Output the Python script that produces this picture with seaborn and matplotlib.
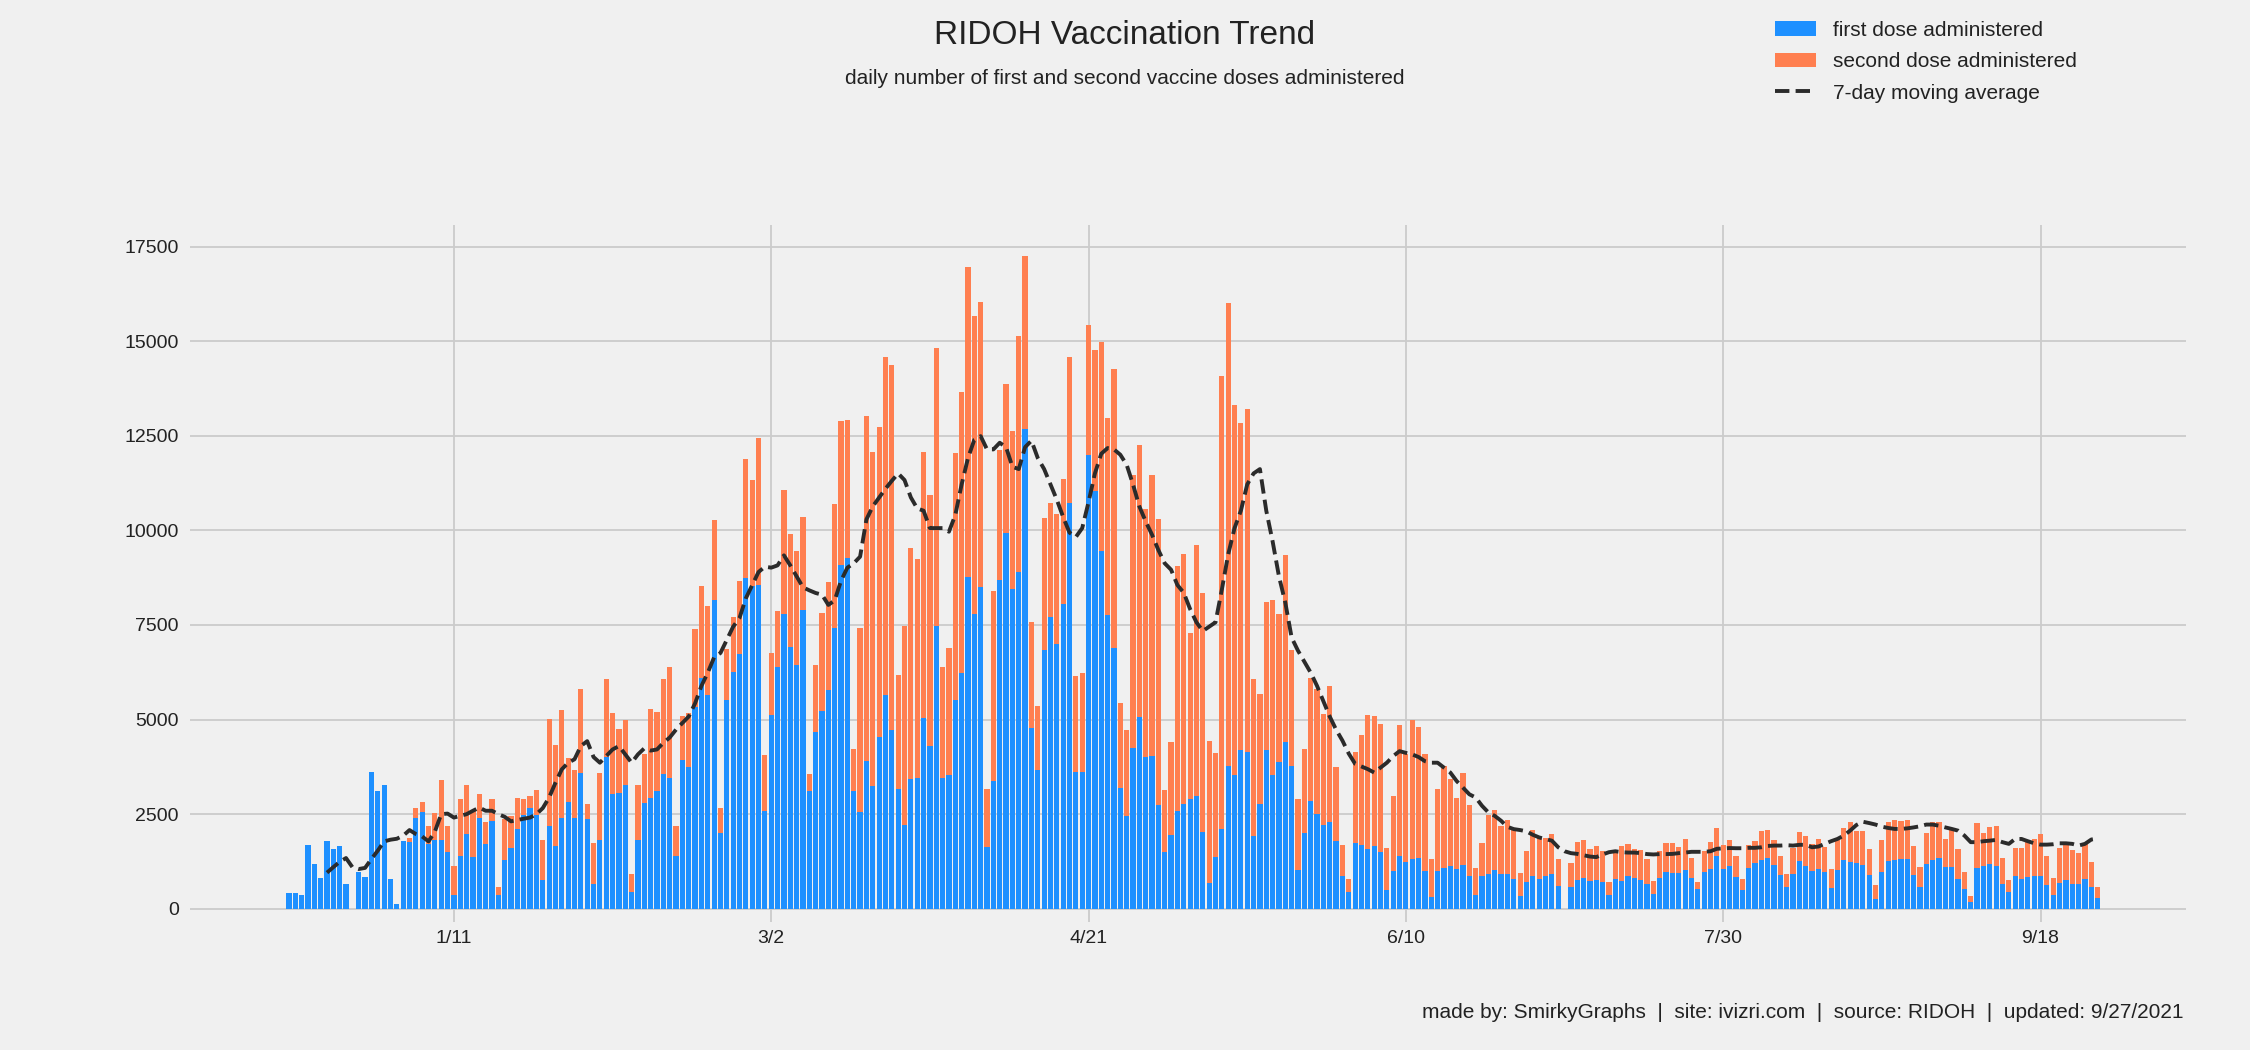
import numpy as np
import pandas as pd
import matplotlib
matplotlib.use("Agg")
import matplotlib.pyplot as plt
import seaborn as sns
from matplotlib.patches import Patch
from matplotlib.lines import Line2D

# daily doses, first day shown is 12/16/2020 (day 0)
first_dose = [
    410, 410, 360, 1675, 1175, 810, 1780, 1570, 1650, 650,
    0, 965, 830, 3620, 3120, 3280, 780, 120, 1780, 1755,
    2410, 2570, 1700, 1810, 1830, 1490, 360, 1385, 1965, 1360,
    2410, 1700, 2310, 360, 1280, 1600, 2100, 2490, 2650, 2465,
    755, 2200, 1650, 2410, 2830, 2410, 3600, 2360, 650, 1830,
    4020, 3020, 3070, 3280, 440, 1830, 2800, 2940, 3125, 3565,
    3450, 1390, 3935, 3750, 5325, 6090, 5650, 8150, 1990, 5510,
    6250, 6725, 8750, 8520, 8565, 2590, 5115, 6390, 7780, 6920,
    6435, 7895, 3100, 4675, 5230, 5790, 7420, 9085, 9260, 3125,
    2570, 3910, 3250, 4540, 5650, 4720, 3170, 2220, 3425, 3450,
    5045, 4305, 7465, 3450, 3540, 5510, 6225, 8775, 7780, 8495,
    1620, 3380, 8700, 9940, 8450, 8890, 12685, 4790, 3680, 6840,
    7710, 7000, 8055, 10720, 3610, 3610, 11990, 11040, 9445, 7765,
    6900, 3195, 2455, 4260, 5070, 4005, 4050, 2730, 1505, 1945,
    2590, 2780, 2895, 2985, 2035, 670, 1365, 2105, 3785, 3540,
    4200, 4145, 1930, 2780, 4200, 3540, 3890, 4420, 3775, 1020,
    2015, 2835, 2510, 2220, 2300, 1780, 855, 440, 1725, 1680,
    1575, 1650, 1490, 490, 990, 1385, 1230, 1305, 1335, 990,
    305, 990, 1070, 1120, 1045, 1150, 860, 360, 860, 910,
    1020, 910, 910, 780, 335, 700, 860, 780, 860, 915,
    600, 0, 575, 760, 810, 730, 760, 705, 365, 785,
    730, 865, 810, 760, 655, 390, 810, 970, 945, 945,
    1020, 810, 520, 970, 1050, 1390, 1050, 1125, 840, 495,
    1075, 1205, 1285, 1335, 1150, 890, 575, 915, 1260, 1125,
    995, 1050, 970, 550, 1020, 1285, 1230, 1205, 1150, 890,
    255, 970, 1260, 1285, 1310, 1310, 890, 575, 1180, 1285,
    1335, 1100, 1100, 785, 520, 180, 1075, 1125, 1180, 1125,
    655, 445, 865, 785, 840, 865, 865, 625, 365, 680,
    760, 655, 655, 785, 575, 285,
]

second_dose = [
    0, 0, 0, 0, 0, 0, 0, 0, 0, 0,
    0, 0, 0, 0, 0, 0, 0, 0, 0, 110,
    265, 260, 475, 710, 1580, 710, 760, 1525, 1315, 1240,
    610, 580, 580, 210, 1080, 840, 840, 400, 340, 685,
    1075, 2820, 2680, 2840, 1160, 1265, 2200, 420, 1080, 1770,
    2050, 2155, 1680, 1710, 470, 1450, 1300, 2340, 2075, 2500,
    2930, 810, 1155, 1420, 2060, 2450, 2360, 2130, 660, 1365,
    1470, 1935, 3125, 2810, 3865, 1485, 1635, 1470, 3285, 2990,
    3010, 2465, 465, 1760, 2595, 2855, 3275, 3795, 3645, 1100,
    4860, 9100, 8810, 8200, 8930, 9655, 3000, 5245, 6115, 5800,
    7015, 6635, 7360, 2930, 3350, 6530, 7425, 8180, 7890, 7545,
    1550, 5020, 3420, 3935, 4165, 6235, 4560, 2780, 1690, 3485,
    3010, 3430, 3300, 3860, 2535, 2615, 3425, 3730, 5530, 5195,
    7370, 2245, 2265, 7210, 7175, 6560, 7410, 7570, 1645, 2475,
    6470, 6595, 4385, 6635, 6300, 3760, 2755, 11980, 12220, 9780,
    8625, 9075, 4135, 2890, 3915, 4630, 3890, 4930, 3075, 1885,
    2210, 3255, 3290, 2930, 3600, 1970, 825, 335, 2420, 2920,
    3540, 3445, 3395, 1110, 2000, 3475, 2870, 3685, 3470, 3110,
    1000, 2185, 2710, 2320, 1895, 2450, 1895, 710, 870, 1580,
    1600, 1290, 1425, 1315, 605, 820, 1210, 1105, 1010, 1055,
    710, 0, 630, 1000, 1000, 845, 895, 815, 340, 765,
    925, 840, 765, 790, 655, 340, 710, 765, 790, 680,
    820, 530, 185, 550, 710, 735, 630, 685, 550, 290,
    605, 580, 765, 740, 660, 500, 340, 685, 760, 790,
    710, 790, 655, 500, 790, 840, 1055, 845, 900, 685,
    370, 840, 1025, 1055, 1000, 1030, 765, 525, 815, 1000,
    950, 740, 975, 790, 450, 160, 1180, 870, 970, 1055,
    685, 315, 735, 815, 920, 975, 1105, 765, 445, 920,
    945, 895, 815, 920, 660, 290,
]

# 7-day moving average as drawn in the chart
avg_7day = [
    np.nan, np.nan, np.nan, np.nan, np.nan, np.nan, 955, 1100, 1240, 1340,
    1100, 1050, 1080, 1315, 1535, 1780, 1825, 1850, 1930, 2080,
    1975, 1910, 1780, 2040, 2500, 2515, 2410, 2455, 2500, 2590,
    2675, 2590, 2590, 2500, 2430, 2310, 2345, 2380, 2410, 2500,
    2660, 2940, 3330, 3685, 3860, 3950, 4300, 4430, 4010, 3860,
    4035, 4210, 4300, 4080, 3860, 4080, 4240, 4180, 4210, 4385,
    4525, 4735, 4910, 5080, 5430, 5890, 6240, 6645, 6760, 7105,
    7455, 7685, 8205, 8555, 8900, 9040, 9015, 9075, 9340, 9075,
    8785, 8495, 8415, 8345, 8300, 8030, 8150, 8670, 9015, 9130,
    9305, 10290, 10635, 10870, 11100, 11310, 11505, 11330, 10870, 10580,
    10520, 10060, 10060, 10060, 9965, 10405, 11215, 11910, 12395, 12490,
    12140, 12140, 12315, 12200, 11680, 11620, 12200, 12370, 11910, 11620,
    11215, 10810, 10350, 9940, 9825, 10060, 10750, 11505, 12025, 12175,
    12140, 12000, 11735, 11215, 10635, 10235, 9885, 9480, 9130, 8960,
    8555, 8350, 7920, 7570, 7340, 7455, 7570, 8435, 9365, 10060,
    10520, 11215, 11505, 11620, 10520, 9710, 8785, 8090, 7165, 6820,
    6530, 6240, 5890, 5485, 5080, 4735, 4445, 4100, 3830, 3760,
    3690, 3600, 3730, 3860, 4035, 4165, 4120, 4080, 4010, 3900,
    3860, 3860, 3730, 3600, 3375, 3200, 3025, 2940, 2720, 2545,
    2455, 2325, 2165, 2105, 2080, 2045, 1955, 1885, 1840, 1800,
    1625, 1520, 1470, 1450, 1415, 1380, 1365, 1435, 1495, 1520,
    1495, 1485, 1485, 1470, 1445, 1435, 1445, 1445, 1450, 1470,
    1485, 1505, 1505, 1505, 1520, 1585, 1595, 1605, 1600, 1600,
    1610, 1610, 1625, 1660, 1670, 1670, 1680, 1670, 1690, 1690,
    1625, 1645, 1715, 1785, 1845, 1935, 2065, 2215, 2300, 2265,
    2225, 2170, 2135, 2110, 2110, 2125, 2150, 2180, 2225, 2225,
    2195, 2150, 2110, 2065, 1935, 1760, 1760, 1785, 1800, 1820,
    1760, 1715, 1845, 1845, 1785, 1730, 1695, 1695, 1705, 1730,
    1730, 1715, 1670, 1715, 1830, 1855,
]

tick_days = [26, 76, 126, 176, 226, 276]
tick_labels = ["1/11", "3/2", "4/21", "6/10", "7/30", "9/18"]
y_ticks = [0, 2500, 5000, 7500, 10000, 12500, 15000, 17500]

BLUE = "#1e90ff"
ORANGE = "#ff7f50"
LINE = "#2b2b2b"
BG = "#f0f0f0"

df = pd.DataFrame({
    "day": np.arange(len(first_dose)),
    "first": first_dose,
    "second": second_dose,
    "avg": avg_7day,
})
df["total"] = df["first"] + df["second"]

sns.set_style("whitegrid", rc={
    "axes.facecolor": BG,
    "figure.facecolor": BG,
    "grid.color": "#cbcbcb",
    "axes.edgecolor": BG,
})
plt.rcParams["font.family"] = ["Liberation Sans", "DejaVu Sans"]

fig = plt.figure(figsize=(22.5, 10.5), dpi=100, facecolor=BG)
ax = fig.add_axes([0.0844, 0.1219, 0.8871, 0.6638])

# stacked bars: total in orange, first dose in blue on top of it
sns.barplot(data=df, x="day", y="total", color=ORANGE, saturation=1,
            native_scale=True, width=0.82, errorbar=None, linewidth=0,
            ax=ax)
sns.barplot(data=df, x="day", y="first", color=BLUE, saturation=1,
            native_scale=True, width=0.82, errorbar=None, linewidth=0,
            ax=ax)
sns.lineplot(data=df, x="day", y="avg", color=LINE, linestyle="--",
             linewidth=2.8, ax=ax)

ax.set_xlim(-15.6, 298.9)
ax.set_ylim(-350, 18070)
ax.set_xticks(tick_days)
ax.set_xticklabels(tick_labels)
ax.set_yticks(y_ticks)
ax.set_yticklabels([str(v) for v in y_ticks])
ax.set_xlabel("")
ax.set_ylabel("")
ax.grid(True, color="#cbcbcb", linewidth=1.3)
ax.set_axisbelow(True)
ax.tick_params(axis="both", length=0, labelsize=14, colors="#222222")
ax.tick_params(axis="y", pad=8)
ax.tick_params(axis="x", pad=6)
for s in ax.spines.values():
    s.set_visible(False)

fig.text(0.5, 1 - 35 / 1050, "RIDOH Vaccination Trend", ha="center",
         va="center", fontsize=24, color="#222222")
fig.text(0.5, 1 - 79 / 1050,
         "daily number of first and second vaccine doses administered",
         ha="center", va="center", fontsize=15, color="#222222")
fig.text(2183 / 2250, 1 - 1012 / 1050,
         "made by: SmirkyGraphs  |  site: ivizri.com  |  source: RIDOH  |  updated: 9/27/2021",
         ha="right", va="center", fontsize=15, color="#222222")

handles = [
    Patch(facecolor=BLUE, edgecolor="none"),
    Patch(facecolor=ORANGE, edgecolor="none"),
    Line2D([0], [0], color=LINE, linestyle="--", linewidth=2.8),
]
labels = ["first dose administered", "second dose administered",
          "7-day moving average"]
fig.legend(handles, labels, loc="upper left",
           bbox_to_anchor=(1756 / 2250, 1 - 2 / 1050), frameon=False,
           fontsize=15, handlelength=2.0, handletextpad=0.8,
           labelspacing=0.6, labelcolor="#222222")

fig.savefig("out.png", dpi=100, facecolor=BG)
